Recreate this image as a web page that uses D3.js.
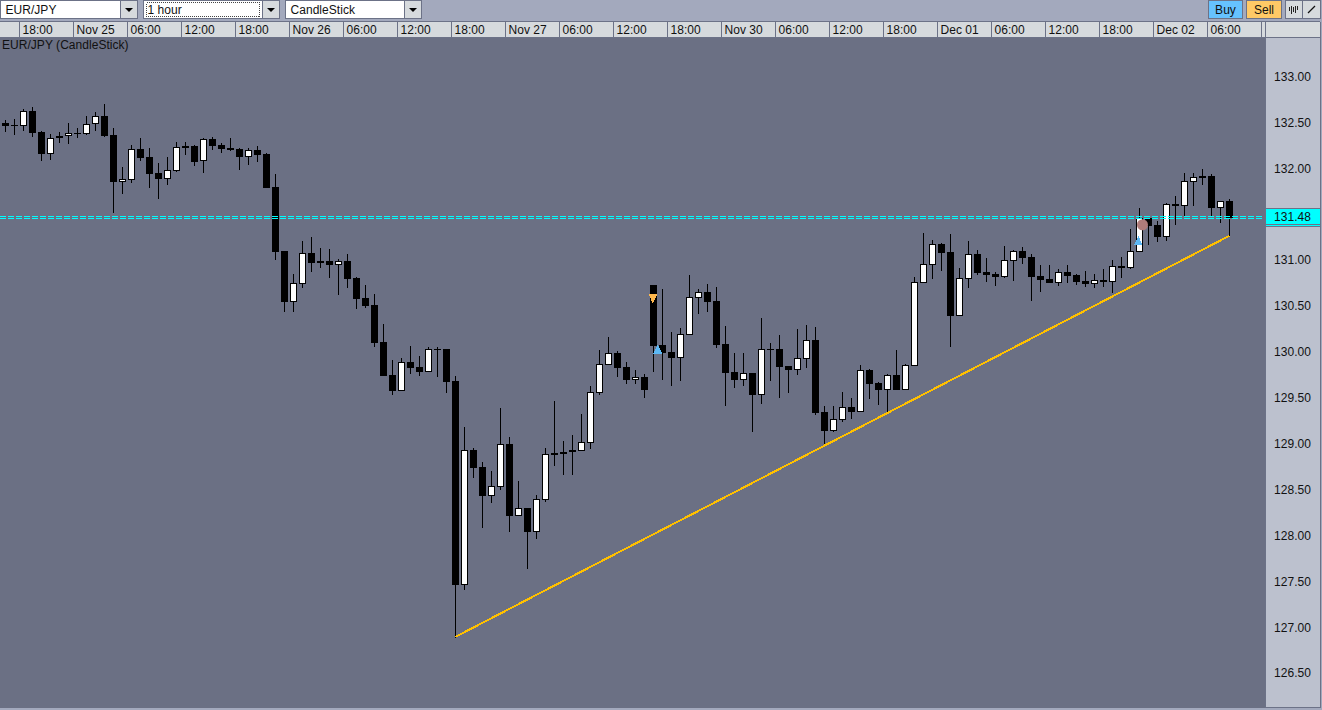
<!DOCTYPE html>
<html>
<head>
<meta charset="utf-8">
<script src="https://cdn.jsdelivr.net/npm/d3@7"></script>
<style>
html, body { margin: 0; padding: 0; background: #6b7084; overflow: hidden; }
svg { display: block; }
text { font-family: "Liberation Sans", Arial, sans-serif; font-size: 12px; fill: #111; letter-spacing: 0.04px; }
</style>
</head>
<body>
<svg id="chart" width="1322" height="710"></svg>
<script>
var highs = [132.53,132.54,132.65,132.67,132.41,132.38,132.40,132.50,132.44,132.58,
132.62,132.71,132.44,132.02,132.26,132.34,132.23,132.06,132.13,132.29,
132.29,132.26,132.33,132.35,132.28,132.34,132.23,132.23,132.25,132.17,
131.94,131.10,130.85,131.21,131.26,131.14,131.13,131.02,131.07,130.82,
130.73,130.64,130.31,129.92,129.94,130.07,129.96,130.06,130.06,130.04,
129.74,129.19,128.96,128.81,128.71,129.39,129.08,128.60,128.30,128.45,
128.96,129.47,129.03,129.10,129.33,129.63,130.03,130.17,130.01,129.89,
129.81,129.76,130.73,130.69,130.22,130.27,130.84,130.69,130.74,130.71,
130.29,129.99,129.99,129.77,130.37,130.10,130.19,129.85,130.25,130.30,
130.28,129.42,129.42,129.57,129.50,129.86,129.82,129.68,129.76,130.03,
129.87,130.82,131.30,131.22,131.19,131.29,130.92,131.21,131.11,131.03,
130.88,131.16,131.11,131.15,131.07,130.95,130.95,130.91,130.95,130.85,
130.89,130.85,130.91,131.01,131.04,131.34,131.57,131.46,131.43,131.63,
131.70,131.95,131.95,132.00,131.94,131.65,131.67];

var lows = [132.40,132.37,132.41,132.35,132.08,132.10,132.28,132.27,132.34,132.37,
132.41,132.35,131.52,131.72,131.85,132.08,131.79,131.67,131.82,131.96,
132.15,132.03,131.95,132.20,132.17,132.19,131.99,132.04,132.07,131.79,
131.01,130.44,130.44,130.70,130.88,130.92,130.81,130.62,130.70,130.47,
130.48,130.06,129.74,129.53,129.58,129.76,129.74,129.79,129.73,129.56,
126.89,127.41,128.63,128.09,128.36,128.50,128.04,128.22,127.64,127.97,
128.37,128.76,128.66,128.66,128.92,128.95,129.53,129.86,129.73,129.66,
129.66,129.50,129.79,129.70,129.63,129.69,130.19,130.42,130.44,130.05,
129.42,129.61,129.63,129.13,129.44,129.69,129.50,129.56,129.75,129.83,
129.32,128.97,129.13,129.24,129.27,129.35,129.49,129.43,129.34,129.59,
129.59,129.85,130.76,130.80,130.89,130.06,130.40,130.70,130.84,130.77,
130.72,130.81,130.78,130.96,130.56,130.66,130.76,130.72,130.76,130.73,
130.71,130.70,130.71,130.65,130.81,130.91,131.09,131.17,131.20,131.21,
131.39,131.49,131.59,131.82,131.49,131.41,131.27];

var opens = [132.50,132.48,132.47,132.63,132.40,132.16,132.33,132.36,132.38,132.38,
132.49,132.57,132.37,131.86,131.88,132.22,132.13,131.95,131.89,131.98,
132.25,132.25,132.08,132.32,132.26,132.22,132.22,132.13,132.20,132.16,
131.80,131.10,130.55,130.74,131.08,131.00,131.00,130.95,131.00,130.81,
130.59,130.52,130.11,129.75,129.58,129.89,129.84,129.79,130.04,130.04,
129.69,127.46,128.94,128.75,128.43,128.53,129.00,128.22,128.30,128.04,
128.39,128.90,128.91,128.91,128.92,129.01,129.56,129.86,129.99,129.84,
129.70,129.73,130.73,130.08,130.00,129.94,130.19,130.59,130.66,130.56,
130.09,129.79,129.70,129.77,129.53,130.04,130.04,129.85,129.81,129.93,
130.13,129.35,129.14,129.26,129.40,129.35,129.81,129.67,129.59,129.75,
129.59,129.85,130.76,130.95,131.18,131.09,130.40,130.80,131.07,130.88,
130.85,130.82,131.00,131.10,131.04,130.83,130.80,130.76,130.88,130.84,
130.78,130.74,130.79,130.77,130.94,130.92,131.09,131.46,131.39,131.26,
131.62,131.59,131.86,131.92,131.92,131.57,131.65];

var closes = [132.47,132.47,132.63,132.39,132.16,132.33,132.36,132.39,132.39,132.49,
132.57,132.36,131.86,131.89,132.21,132.12,131.94,131.89,131.99,132.24,
132.23,132.07,132.32,132.25,132.22,132.22,132.13,132.20,132.15,131.79,
131.09,130.55,130.75,131.08,130.97,130.97,130.95,130.99,130.80,130.58,
130.50,130.10,129.74,129.58,129.89,129.83,129.79,130.04,130.03,129.68,
127.46,128.94,128.74,128.43,128.54,129.00,128.22,128.30,128.04,128.40,
128.89,128.88,128.89,128.94,129.02,129.57,129.87,129.99,129.83,129.70,
129.73,129.59,130.07,129.99,129.94,130.20,130.60,130.66,130.55,130.08,
129.77,129.70,129.77,129.53,130.04,130.03,129.84,129.81,129.94,130.13,
129.34,129.14,129.27,129.40,129.35,129.81,129.66,129.59,129.75,129.59,
129.86,130.77,130.96,131.18,131.08,130.40,130.81,131.07,130.86,130.84,
130.82,131.01,131.10,131.03,130.82,130.79,130.76,130.88,130.83,130.77,
130.74,130.79,130.77,130.94,130.92,131.10,131.46,131.38,131.26,131.62,
131.59,131.87,131.91,131.90,131.57,131.65,131.46];

var priceTicks = [133, 132.5, 132, 131.5, 131, 130.5, 130, 129.5, 129, 128.5, 128, 127.5, 127, 126.5];
var timeLabels = ["18:00","Nov 25","06:00","12:00","18:00","Nov 26","06:00","12:00","18:00","Nov 27","06:00","12:00",
    "18:00","Nov 30","06:00","12:00","18:00","Dec 01","06:00","12:00","18:00","Dec 02","06:00"];
var timeIndex = [2,8,14,20,26,32,38,44,50,56,62,68,74,80,86,92,98,104,110,116,122,128,134];

var lastPrice = 131.48;
var trendIndex = [50, 136];
var trendPrice = [126.90, 131.27];

var sellMarkIndex = [71.94];
var sellMarkPrice = [130.60];
var buyMarkIndex = [72.47, 125.87];
var buyMarkPrice = [130.02, 131.20];
var closeMarkIndex = [126.33];
var closeMarkPrice = [131.39];

var chartBg = "#6b7084";
var border = "#6c7287";
var cellBg = "#d6dadd";
var panelBg = "#a3a9bd";
var axisBg = "#bcc1ce";

var svg = d3.select("#chart");

var x = d3.scaleLinear().domain([0, 136]).range([5.5, 1229.5]);
var y = d3.scaleLinear().domain([126.5, 133]).range([673.5, 77]);

function yr(p) { return Math.round(y(p)); }

// backgrounds
svg.append("rect").attr("width", 1322).attr("height", 710).attr("fill", panelBg);
svg.append("rect").attr("x", 0).attr("y", 38).attr("width", 1266).attr("height", 670).attr("fill", chartBg);
svg.append("rect").attr("x", 1266).attr("y", 38).attr("width", 54).attr("height", 669).attr("fill", axisBg);
svg.append("rect").attr("x", 0).attr("y", 22).attr("width", 1320).attr("height", 15).attr("fill", cellBg);

// top toolbar
function combo(left, w, label, focus) {
    var g = svg.append("g").attr("shape-rendering", "crispEdges");
    g.append("rect").attr("x", left + 0.5).attr("y", 0.5).attr("width", w).attr("height", 18)
        .attr("fill", "#fff").attr("stroke", border);
    g.append("rect").attr("x", left + w + 0.5).attr("y", 0.5).attr("width", 17).attr("height", 18)
        .attr("fill", cellBg).attr("stroke", border);
    if (focus) {
        g.append("rect").attr("x", left + 3.5).attr("y", 2.5).attr("width", w - 6).attr("height", 14)
            .attr("fill", "none").attr("stroke", "#444").attr("stroke-dasharray", "1,1");
    }
    svg.append("path").attr("d", d3.line()([[left + w + 5, 8], [left + w + 13, 8], [left + w + 9, 12]]) + "Z")
        .attr("fill", "#000");
    svg.append("text").attr("x", left + (focus ? 4.5 : 5.5)).attr("y", 14).text(label);
}
combo(0, 120, "EUR/JPY", false);
combo(143, 119, "1 hour", true);
combo(285, 119, "CandleStick", false);

function button(left, w, label, fill) {
    svg.append("rect").attr("x", left + 0.5).attr("y", 0.5).attr("width", w).attr("height", 18)
        .attr("fill", fill).attr("stroke", border).attr("shape-rendering", "crispEdges");
    svg.append("text").attr("x", left + w / 2 + 0.5).attr("y", 14).attr("text-anchor", "middle").text(label);
}
button(1208, 34, "Buy", "#66c2ff");
button(1246, 35, "Sell", "#ffc966");
button(1285, 17, "", cellBg);
button(1302, 18, "", cellBg);

// tool icons
[[1289, 7, 11], [1291, 6, 14], [1293, 7, 12], [1295, 6, 13], [1297, 6, 10]].forEach(function(d) {
    svg.append("line").attr("x1", d[0] + 0.5).attr("x2", d[0] + 0.5).attr("y1", d[1]).attr("y2", d[2])
        .attr("stroke", "#222").attr("stroke-width", 1).attr("shape-rendering", "crispEdges");
});
svg.append("line").attr("x1", 1308).attr("y1", 13).attr("x2", 1315).attr("y2", 6)
    .attr("stroke", "#111").attr("stroke-width", 1.2);

// time axis
var timeAxis = d3.axisBottom(x)
    .tickValues(timeIndex)
    .tickFormat(function(d, i) { return timeLabels[i]; })
    .tickSize(15)
    .tickPadding(0)
    .offset(0);

var timeG = svg.append("g")
    .attr("transform", "translate(-4,22)")
    .call(timeAxis);
timeG.select(".domain").remove();
timeG.selectAll(".tick line")
    .attr("stroke", border)
    .attr("shape-rendering", "crispEdges");
timeG.selectAll(".tick text")
    .attr("text-anchor", "start")
    .attr("x", 3)
    .attr("y", 2)
    .attr("dy", "0.85em")
    .attr("fill", "#111")
    .attr("font-family", "Liberation Sans, Arial, sans-serif")
    .attr("font-size", 12);

[[0, 1320, 21.5, 21.5], [0, 1320, 37.5, 37.5], [1261.5, 1261.5, 22, 37], [1265.5, 1265.5, 22, 708], [1320.5, 1320.5, 22, 708], [1266, 1321, 707.5, 707.5]].forEach(function(d) {
    svg.append("line").attr("x1", d[0]).attr("x2", d[1]).attr("y1", d[2]).attr("y2", d[3])
        .attr("stroke", border).attr("shape-rendering", "crispEdges");
});

svg.append("text").attr("x", 2).attr("y", 49).attr("fill", "#1a1a1a").text("EUR/JPY (CandleStick)");

// price axis
var priceAxis = d3.axisRight(y)
    .tickValues(priceTicks)
    .tickFormat(d3.format(".2f"))
    .tickSize(0)
    .tickPadding(8)
    .offset(0);

var priceG = svg.append("g")
    .attr("transform", "translate(1266,0)")
    .call(priceAxis);
priceG.select(".domain").remove();
priceG.selectAll(".tick text")
    .attr("dy", 3.9)
    .attr("fill", "#111")
    .attr("font-family", "Liberation Sans, Arial, sans-serif")
    .attr("font-size", 12);

// candles
var candles = d3.range(highs.length);
var candleG = svg.append("g").attr("shape-rendering", "crispEdges");

candleG.selectAll(".wick")
    .data(candles)
    .enter()
    .append("line")
    .attr("class", "wick")
    .attr("x1", function(i) { return x(i); })
    .attr("x2", function(i) { return x(i); })
    .attr("y1", function(i) { return yr(highs[i]); })
    .attr("y2", function(i) { return yr(lows[i]); })
    .attr("stroke", "#000");

candleG.selectAll(".body")
    .data(candles)
    .enter()
    .append("rect")
    .attr("class", "body")
    .each(function(i) {
        var top = yr(Math.max(opens[i], closes[i]));
        var bot = yr(Math.min(opens[i], closes[i]));
        var h = bot - top;
        var white = closes[i] > opens[i] && h >= 2;
        if (h < 1) { h = 2; top = top - 1; }
        if (white) {
            d3.select(this)
                .attr("x", x(i) - 3)
                .attr("y", top + 0.5)
                .attr("width", 6)
                .attr("height", h - 1)
                .attr("fill", "#fff")
                .attr("stroke", "#000");
        } else {
            d3.select(this)
                .attr("x", x(i) - 3.5)
                .attr("y", top)
                .attr("width", 7)
                .attr("height", h)
                .attr("fill", "#000");
        }
    });

// trend line
svg.append("line")
    .attr("x1", x(trendIndex[0]))
    .attr("y1", y(trendPrice[0]))
    .attr("x2", x(trendIndex[1]))
    .attr("y2", y(trendPrice[1]))
    .attr("stroke", "#ffc000")
    .attr("stroke-width", 2)
    .attr("shape-rendering", "crispEdges");

// current price lines, two dashed rows
var dashStarts = d3.range(0, 1262, 8);
[0, 2].forEach(function(off) {
    svg.append("g")
        .attr("shape-rendering", "crispEdges")
        .selectAll("rect")
        .data(dashStarts)
        .enter()
        .append("rect")
        .attr("x", function(d) { return d; })
        .attr("y", yr(lastPrice) + off)
        .attr("width", 6)
        .attr("height", 1)
        .attr("fill", "#00ffff");
});

// current price box
var priceBox = svg.append("g").attr("shape-rendering", "crispEdges");
priceBox.append("rect").attr("x", 1266).attr("y", 208).attr("width", 54).attr("height", 19).attr("fill", border);
priceBox.append("rect").attr("x", 1266).attr("y", 209).attr("width", 54).attr("height", 15).attr("fill", "#00ffff");
priceBox.append("rect").attr("x", 1266).attr("y", 225).attr("width", 54).attr("height", 1).attr("fill", "#00ffff");
svg.append("text").attr("x", 1274).attr("y", 221).text(d3.format(".2f")(lastPrice));

// order markers
var tri = d3.symbol().type(d3.symbolTriangle).size(34);

svg.selectAll(".sell-mark")
    .data(sellMarkIndex)
    .enter()
    .append("path")
    .attr("class", "sell-mark")
    .attr("d", tri)
    .attr("shape-rendering", "crispEdges")
    .attr("transform", function(d, i) { return "translate(" + x(d) + "," + y(sellMarkPrice[i]) + ") rotate(180) scale(1,1.25)"; })
    .attr("fill", "#ffb84d");

svg.selectAll(".buy-mark")
    .data(buyMarkIndex)
    .enter()
    .append("path")
    .attr("class", "buy-mark")
    .attr("d", tri)
    .attr("shape-rendering", "crispEdges")
    .attr("transform", function(d, i) { return "translate(" + x(d) + "," + y(buyMarkPrice[i]) + ") scale(1,1.25)"; })
    .attr("fill", "#5cb8f5");

svg.selectAll(".close-mark")
    .data(closeMarkIndex)
    .enter()
    .append("circle")
    .attr("class", "close-mark")
    .attr("cx", function(d) { return x(d); })
    .attr("cy", function(d, i) { return y(closeMarkPrice[i]); })
    .attr("r", 5.5)
    .attr("fill", "#b07c7a");
</script>
</body>
</html>
